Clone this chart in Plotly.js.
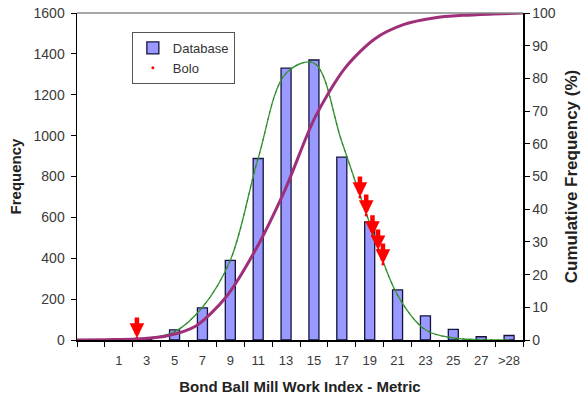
<!DOCTYPE html>
<html>
<head>
<meta charset="utf-8">
<script src="https://cdn.plot.ly/plotly-3.0.1.min.js"></script>
<style>
  html, body { margin: 0; padding: 0; background: #fff; }
  #chart { width: 588px; height: 404px; }
</style>
</head>
<body>
<div id="chart"></div>
<script>
// Histogram bins of Bond ball mill work index (kWh/t), each 2 units wide
const binLabels  = ['', '1', '3', '5', '7', '9', '11', '13', '15', '17', '19', '21', '23', '25', '27', '>28'];
const binCenters = [-1, 1, 3, 5, 7, 9, 11, 13, 15, 17, 19, 21, 23, 25, 27, 29];

// Database sample counts per bin
const databaseCounts = [0, 0, 5, 50, 157, 390, 888, 1330, 1370, 895, 578, 245, 118, 52, 16, 22];

// Fitted normal distribution, evaluated at the bin centres
const normalFit = [0, 1, 8, 40, 160, 390, 890, 1305, 1355, 970, 572, 220, 50, 10, 2, 0];

// Cumulative frequency (%), one value per bin on the secondary axis
const cumulativePct = [0, 0.1, 0.3, 1.2, 4.3, 13, 27.5, 46, 68, 83, 92, 96.5, 98.5, 99.3, 99.7, 100];
const cumulativeStep = [0, 1, 2, 3, 4, 5, 6, 7, 8, 9, 10, 11, 12, 13, 14, 15];

// Bolo samples: work index and the matching frequency on the fitted curve
const boloWorkIndex = [2.3, 18.3, 18.75, 19.2, 19.6, 19.95];
const boloFreq      = [10, 700, 612, 510, 440, 372];

const font = 'Liberation Sans, Arial, sans-serif';

const traces = [
  {
    type: 'bar',
    name: 'Database',
    x: binCenters,
    y: databaseCounts,
    width: 0.72,
    marker: { color: '#9999ff', line: { color: '#14143c', width: 1.3 } },
    hoverinfo: 'x+y'
  },
  {
    type: 'scatter',
    mode: 'lines',
    name: 'Normal fit',
    x: binCenters,
    y: normalFit,
    line: { color: '#3b9a3b', width: 1.4, shape: 'spline', smoothing: 1 },
    showlegend: false
  },
  {
    type: 'scatter',
    mode: 'lines',
    name: 'Normal fit',
    x: binCenters,
    y: normalFit,
    line: { color: '#1f4f1f', width: 1, dash: '2px,5px', shape: 'spline', smoothing: 1 },
    opacity: 0.6,
    showlegend: false
  },
  {
    type: 'scatter',
    mode: 'lines',
    name: 'Cumulative',
    x: cumulativeStep,
    y: cumulativePct,
    xaxis: 'x2',
    yaxis: 'y2',
    line: { color: '#9e2f78', width: 3, shape: 'spline', smoothing: 0.8 },
    showlegend: false
  },
  {
    type: 'scatter',
    mode: 'markers',
    name: 'Bolo',
    x: boloWorkIndex,
    y: boloFreq,
    marker: { color: '#ff0000', size: 3 }
  }
];

// Red down-arrows pointing at each Bolo sample
const arrows = boloWorkIndex.map((w, i) => ({
  x: w, y: boloFreq[i], xref: 'x', yref: 'y',
  text: '', showarrow: true,
  ax: 0, ay: -22,
  arrowhead: 2, arrowsize: 0.65, arrowwidth: 4.5, arrowcolor: '#ff0000',
  standoff: 0
}));

const layout = {
  width: 588,
  height: 404,
  margin: { l: 77, r: 65, t: 13, b: 64 },
  paper_bgcolor: '#ffffff',
  plot_bgcolor: '#ffffff',
  font: { family: font, size: 12, color: '#222' },
  bargap: 0,
  xaxis: {
    range: [-2, 30],
    tickmode: 'array',
    tickvals: binCenters,
    ticktext: binLabels,
    ticks: '',
    ticklabelstandoff: 8,
    showline: true, linecolor: '#000', linewidth: 1.5,
    showgrid: false, zeroline: false,
    tickfont: { family: font, size: 13, color: '#3a3a3a' },
    minor: { tick0: 0, dtick: 2, ticks: 'outside', ticklen: 5, tickcolor: '#000', tickwidth: 1, showgrid: false },
    title: { text: '<b>Bond Ball Mill Work Index - Metric</b>', font: { family: font, size: 15, color: '#222' }, standoff: 14 }
  },
  xaxis2: {
    overlaying: 'x',
    range: [0, 15],
    visible: false
  },
  yaxis: {
    range: [0, 1600],
    dtick: 200,
    ticks: 'outside', ticklen: 5, tickcolor: '#000',
    ticklabelstandoff: 3,
    showline: true, linecolor: '#000', linewidth: 1.5,
    showgrid: false, zeroline: false,
    tickfont: { family: font, size: 14, color: '#3a3a3a' },
    title: { text: '<b>Frequency</b>', font: { family: font, size: 15, color: '#222' }, standoff: 8 }
  },
  yaxis2: {
    overlaying: 'y',
    side: 'right',
    anchor: 'x2',
    range: [0, 100],
    dtick: 10,
    ticks: 'outside', ticklen: 5, tickcolor: '#000',
    showline: true, linecolor: '#000', linewidth: 1.5,
    showgrid: false, zeroline: false,
    tickfont: { family: font, size: 14, color: '#3a3a3a' },
    title: { text: '<b>Cumulative Frequency (%)</b>', font: { family: font, size: 17, color: '#222' }, standoff: 10 }
  },
  legend: {
    x: 0.123, y: 0.942, xanchor: 'left', yanchor: 'top',
    bgcolor: '#ffffff', bordercolor: '#555', borderwidth: 1,
    font: { family: font, size: 13, color: '#333' },
    itemwidth: 30, tracegroupgap: 4
  },
  shapes: [
    { type: 'line', xref: 'paper', yref: 'paper', x0: 0, x1: 1, y0: 1, y1: 1, line: { color: '#888', width: 1.5 } }
  ],
  annotations: arrows,
  showlegend: true
};

Plotly.newPlot('chart', traces, layout, { displayModeBar: false, staticPlot: true });
</script>
</body>
</html>
